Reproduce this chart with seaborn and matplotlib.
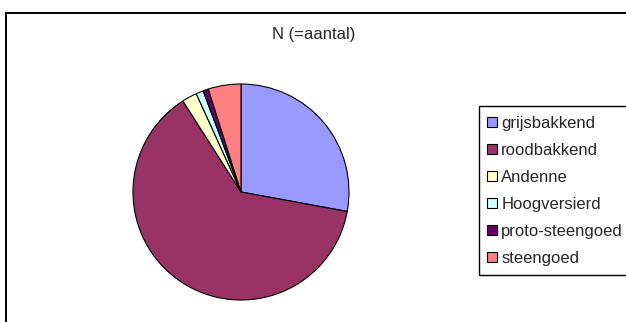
import matplotlib
matplotlib.use("Agg")
import matplotlib.pyplot as plt
from matplotlib.patches import Rectangle, Patch
import seaborn as sns

# Aardewerk-categorieën en hun aantallen
categories = ["grijsbakkend", "roodbakkend", "Andenne", "Hoogversierd",
              "proto-steengoed", "steengoed"]
counts = [27.9, 63.1, 2.25, 1.1, 0.8, 4.9]
colors = ["#9999FF", "#993366", "#FFFFCC", "#CCFFFF", "#660066", "#FF8080"]
title = "N (=aantal)"

sns.set_theme(style="white")
plt.rcParams["font.family"] = ["Liberation Sans", "DejaVu Sans"]

W, H = 626, 322
fig = plt.figure(figsize=(W / 100, H / 100), dpi=100)
fig.patch.set_facecolor("white")

# outer chart-area frame (runs off the right and bottom edge)
fig.add_artist(Rectangle((6 / W, -0.05), 1.0, 1 - 13 / H + 0.05,
                         transform=fig.transFigure, fill=False,
                         edgecolor="black", linewidth=1.4))

# pie
cx, cy, r = 241, 192, 108
ax = fig.add_axes([(cx - r) / W, (H - cy - r) / H, 2 * r / W, 2 * r / H])
ax.pie(counts, colors=colors, startangle=90, counterclock=False,
       wedgeprops=dict(edgecolor="black", linewidth=0.8))
ax.set_xlim(-1.0, 1.0)
ax.set_ylim(-1.0, 1.0)
ax.set_aspect("equal")
ax.axis("off")

fig.text(314 / W, 1 - 35 / H, title, ha="center", va="center", fontsize=12)

# legend frame
fig.add_artist(Rectangle((479 / W, 1 - 275 / H), 1.0, (275 - 106) / H,
                         transform=fig.transFigure, fill=False,
                         edgecolor="black", linewidth=1.0))
handles = [Patch(facecolor=c, edgecolor="black", linewidth=0.8) for c in colors]
fig.legend(handles, categories, loc="upper left",
           bbox_to_anchor=(487 / W, 1 - 116 / H), frameon=False,
           fontsize=12, borderpad=0, borderaxespad=0,
           handlelength=0.6, handleheight=0.6, handletextpad=0.25,
           labelspacing=0.72)

fig.savefig("out.png", dpi=100, facecolor="white")
